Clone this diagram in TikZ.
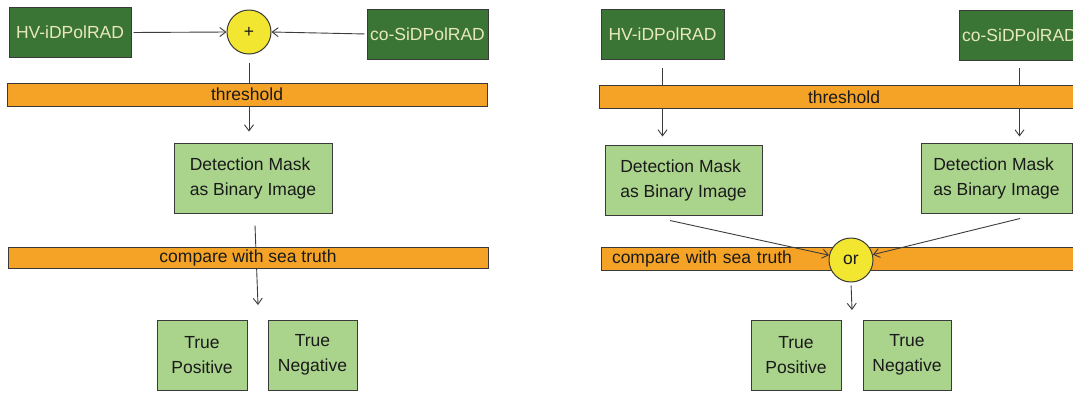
\documentclass[tikz,border=0pt]{standalone}
\usepackage{fontspec}
\setmainfont{Liberation Sans}
\usetikzlibrary{arrows.meta,backgrounds}
\definecolor{dkgreen}{HTML}{3B7535}
\definecolor{ltgreen}{HTML}{AAD38C}
\definecolor{orangebar}{HTML}{F5A327}
\definecolor{yellowc}{HTML}{F2E631}
\definecolor{cream}{HTML}{E8E8BC}
\definecolor{edge}{HTML}{3A3A3A}
\definecolor{ink}{HTML}{1A1A1A}
\tikzset{
  base/.style={draw=edge, line width=1pt, font=\fontsize{17.5}{25}\selectfont, inner sep=0pt},
  srcbox/.style={base, fill=dkgreen, text=cream, minimum height=50pt},
  maskbox/.style={base, fill=ltgreen, text=ink, minimum height=70pt, align=left},
  resbox/.style={base, fill=ltgreen, text=ink, minimum width=90pt, minimum height=70pt, align=center},
  bar/.style={base, fill=orangebar, text=ink, minimum height=23pt},
  joint/.style={base, circle, fill=yellowc, text=ink, minimum size=44pt},
  conn/.style={draw=ink!85, line width=0.9pt},
  arr/.style={conn, -{Straight Barb[length=6pt,width=9pt]}}
}
\begin{document}
\begin{tikzpicture}[x=1pt,y=-1pt]
\path[clip] (0,0) rectangle (1073,392);
% ---------- left panel ----------
\node[srcbox, minimum width=122pt] (Lhv) at (70,32.5) {HV-iDPolRAD};
\node[srcbox, minimum width=121pt] (Lco) at (427.5,34) {co-SiDPolRAD};
\node[joint] (Lplus) at (249,32) {+};
\node[bar, minimum width=480pt] (Lth) at (247,94.5) {threshold};
\node[maskbox, minimum width=158pt] (Lmask) at (253,178) {Detection Mask\\as Binary Image};
\node[bar, minimum width=480pt, minimum height=21pt] (Lcmp) at (248,257.5) {compare with sea truth};
\node[resbox] (Ltp) at (202,355) {True\\Positive};
\node[resbox, minimum width=89pt] (Ltn) at (312.5,355) {True\\Negative};
\coordinate (Lout) at (258,305);
% ---------- right panel ----------
\node[srcbox, minimum width=123pt] (Rhv) at (662.5,34) {HV-iDPolRAD};
\node[srcbox, minimum width=121pt] (Rco) at (1019.5,35.5) {co-SiDPolRAD};
\node[bar, minimum width=490pt] (Rth) at (844,97) {threshold};
\node[maskbox, minimum width=157pt] (Rm1) at (683.5,180) {Detection Mask\\as Binary Image};
\node[maskbox, minimum width=151pt] (Rm2) at (996.5,178) {Detection Mask\\as Binary Image};
\node[bar, minimum height=23pt, text width=468pt, inner xsep=11pt, align=left] (Rcmp) at (846,258.5) {compare with sea truth};
\node[joint] (Ror) at (851,260) {or};
\node[resbox] (Rtp) at (796,355) {True\\Positive};
\node[resbox, minimum width=88pt] (Rtn) at (907,355) {True\\Negative};
\coordinate (Rout) at (852,310);
% ---------- connectors ----------
\begin{scope}[on background layer]
\fill[white] (0,0) rectangle (1073,392);
\draw[arr, shorten <=2pt] (Lhv.east) -- (Lplus.west);
\draw[arr, shorten <=2pt] (Lco.west) -- (Lplus.east);
\draw[arr, shorten <=8pt, shorten >=11pt] (Lplus.south) -- (Lplus.south |- Lmask.north);
\draw[arr] ([xshift=2pt,yshift=-12pt]Lmask.south) -- (Lout);
\draw[arr, shorten <=8pt, shorten >=8pt] (Rhv.south) -- (Rhv.south |- Rm1.north);
\draw[arr, shorten <=7pt, shorten >=6pt] (Rco.south) -- (Rco.south |- Rm2.north);
\end{scope}
\draw[arr] ([xshift=-13.5pt,yshift=-5pt]Rm1.south) -- (Ror);
\draw[arr] ([xshift=23.5pt,yshift=-5pt]Rm2.south) -- (Ror);
\draw[arr, shorten <=3pt] (Ror.south) -- (Rout);
\end{tikzpicture}
\end{document}
